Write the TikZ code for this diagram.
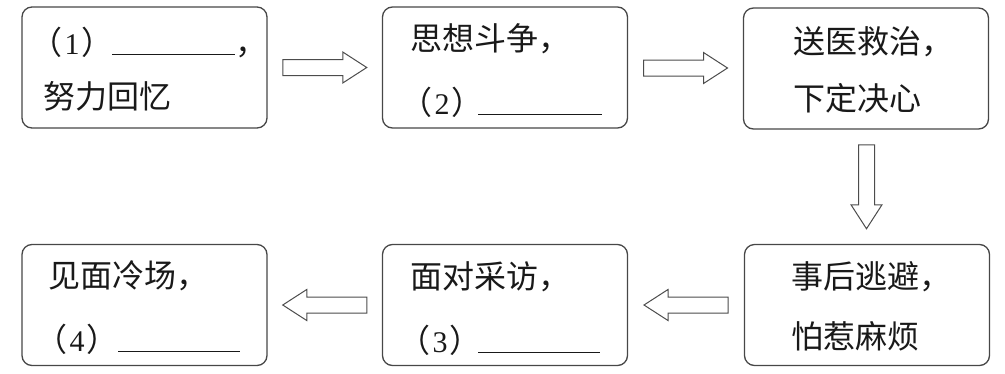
\documentclass[tikz,border=0pt]{standalone}
\usepackage{fontspec}
\setmainfont{Liberation Serif}
\newfontfamily\cjk{Noto Sans CJK SC}
\usetikzlibrary{calc}
\newcommand{\dgt}[1]{\hspace{2.5pt}{\rmfamily\fontsize{30}{32}\selectfont #1}\hspace{1.5pt}}
\newcommand{\blankline}[2]{\hspace{#1}\rule[-1pt]{#2}{1.1pt}}
\begin{document}
\begin{tikzpicture}[x=1pt,y=-1pt,
  box/.style={draw=black!72,line width=1.3pt,rounded corners=10pt,minimum width=245pt,minimum height=121pt,inner sep=0pt},
  txt/.style={anchor=base west,inner sep=0pt,text=black!90,font=\fontsize{32}{38}\selectfont\cjk},
  blk/.style={draw=black!70,line width=1pt,fill=white},
  barrow/.pic={\draw[blk] (-42,-8) -- (18,-8) -- (18,-15.5) -- (42,0) -- (18,15.5) -- (18,8) -- (-42,8) -- cycle;}
]
\useasboundingbox (0,0) rectangle (1005,373);
% boxes
\node[box] (b1) at (144.5,67.5) {};
\node[box] (b2) at (505,67.5) {};
\node[box] (b3) at (866,68.5) {};
\node[box] (b4) at (867,305) {};
\node[box] (b5) at (505,305) {};
\node[box] (b6) at (144.5,305) {};
% texts
\node[txt] (t1a) at (30,54) {（\dgt{1}）\blankline{-1pt}{123pt}，};
\node[txt] (t1b) at (43,108) {努力回忆};
\node[txt] (t2a) at (410,50) {思想斗争，};
\node[txt] (t2b) at (400,114) {（\dgt{2}）\blankline{-5pt}{124pt}};
\node[txt] (t3a) at (793,53) {送医救治，};
\node[txt] (t3b) at (793,110) {下定决心};
\node[txt] (t4a) at (791,288) {事后逃避，};
\node[txt] (t4b) at (791,348) {怕惹麻烦};
\node[txt] (t5a) at (410,288) {面对采访，};
\node[txt] (t5b) at (398,352) {（\dgt{3}）\blankline{-3pt}{122pt}};
\node[txt] (t6a) at (48,287) {见面冷场，};
\node[txt] (t6b) at (35,351) {（\dgt{4}）\blankline{0pt}{122pt}};
% arrows
\coordinate (m12) at ($(b1.east)!0.5!(b2.west)$);
\coordinate (m23) at ($(b2.east)!0.5!(b3.west)$);
\coordinate (m34) at ($(b3.south)!0.5!(b4.north)$);
\coordinate (m45) at ($(b4.west)!0.5!(b5.east)$);
\coordinate (m56) at ($(b5.west)!0.5!(b6.east)$);
\pic at (m12) {barrow};
\pic at (m23) {barrow};
\pic[rotate=-90] at (m34) {barrow};
\pic[rotate=180] at (m45) {barrow};
\pic[rotate=180] at (m56) {barrow};
\end{tikzpicture}
\end{document}
